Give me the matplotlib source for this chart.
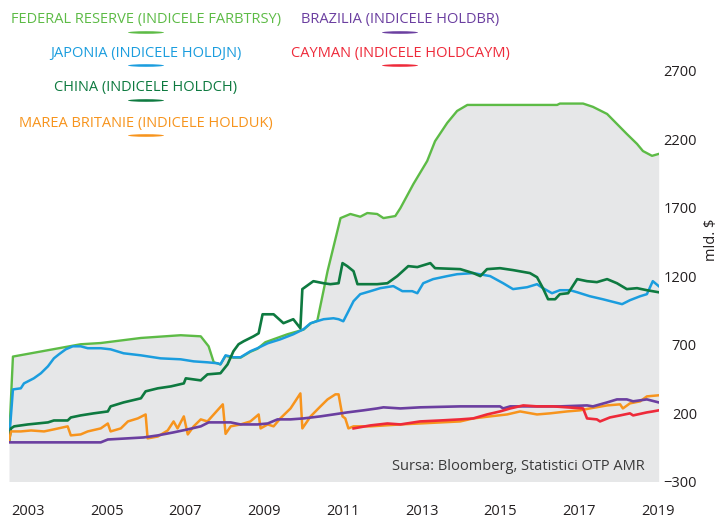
import matplotlib
matplotlib.use("Agg")
import matplotlib.pyplot as plt
from matplotlib.patches import Ellipse

plt.rcParams['font.family'] = ['Open Sans', 'DejaVu Sans']

# Federal Reserve (FARBTRSY)
fed_years = [2002.52, 2002.62, 2004.34, 2004.85, 2005.87, 2006.88, 2007.39, 2007.59, 2007.72,
             2007.89, 2008.02, 2008.22, 2008.40, 2008.65, 2008.83, 2009.03, 2009.59, 2010.00,
             2010.18, 2010.35, 2010.61, 2010.94,
             2011.19, 2011.44, 2011.62, 2011.87, 2012.03, 2012.33, 2012.46, 2012.79, 2013.14,
             2013.34, 2013.65, 2013.90, 2014.16, 2016.44, 2016.51, 2017.10, 2017.35, 2017.71,
             2017.96, 2018.21, 2018.47, 2018.62, 2018.85, 2019.02]
fed_vals = [-7, 613, 703, 712, 749, 769, 761, 688, 571,
            556, 618, 605, 605, 648, 670, 718, 776, 810,
            855, 875, 1237, 1625,
            1655, 1635, 1662, 1655, 1625, 1640, 1698, 1874, 2042,
            2187, 2321, 2408, 2452, 2452, 2462, 2462, 2438, 2386,
            2313, 2240, 2167, 2115, 2080, 2094]

# Japonia (HOLDJN)
jp_years = [2002.52, 2002.62, 2002.82, 2002.90, 2003.15, 2003.33, 2003.51, 2003.66, 2003.79,
            2003.96, 2004.14, 2004.34, 2004.52, 2004.85, 2005.10, 2005.43, 2005.87, 2006.37,
            2006.88, 2007.21, 2007.56, 2007.82, 2007.89, 2008.02, 2008.22, 2008.40, 2008.65,
            2008.83, 2009.09, 2009.41, 2009.74, 2010.00, 2010.18, 2010.51, 2010.76, 2010.89,
            2011.01, 2011.14, 2011.27, 2011.44, 2011.70, 2011.95, 2012.28, 2012.51, 2012.76,
            2012.89, 2013.04, 2013.29, 2013.65, 2013.90, 2014.31, 2014.74, 2015.07, 2015.32,
            2015.68, 2015.93, 2016.08, 2016.31, 2016.51, 2016.77, 2016.95, 2017.27, 2017.60,
            2018.09, 2018.29, 2018.55, 2018.72, 2018.87, 2019.02]
jp_vals = [-7, 373, 381, 417, 454, 491, 542, 600, 630,
           666, 688, 688, 674, 674, 666, 637, 622, 600,
           593, 578, 571, 564, 556, 622, 608, 608, 652,
           674, 710, 739, 776, 813, 857, 886, 893, 886,
           871, 944, 1018, 1069, 1091, 1113, 1128, 1091, 1091,
           1076, 1149, 1179, 1201, 1215, 1223, 1201, 1149, 1106,
           1120, 1142, 1113, 1076, 1098, 1098, 1083, 1054, 1032,
           996, 1025, 1054, 1069, 1164, 1128]

# China (HOLDCH)
cn_years = [2002.52, 2002.57, 2002.65, 2003.00, 2003.51, 2003.66, 2004.01, 2004.09, 2004.34,
            2004.67, 2005.03, 2005.10, 2005.43, 2005.87, 2005.99, 2006.30, 2006.63, 2006.96,
            2007.01, 2007.39, 2007.56, 2007.89, 2008.07, 2008.22, 2008.35, 2008.48, 2008.73,
            2008.86, 2008.96, 2009.24, 2009.49, 2009.74, 2009.92, 2009.97, 2010.25, 2010.51,
            2010.68, 2010.89, 2010.99, 2011.11, 2011.27, 2011.37, 2011.62, 2011.87, 2012.13,
            2012.38, 2012.66, 2012.89, 2013.22, 2013.34, 2013.98, 2014.31, 2014.49, 2014.66,
            2014.99, 2015.32, 2015.75, 2015.93, 2016.08, 2016.21, 2016.39, 2016.51, 2016.72,
            2016.95, 2017.20, 2017.45, 2017.71, 2017.96, 2018.21, 2018.47, 2018.72, 2019.02]
cn_vals = [-7, 88, 103, 117, 132, 146, 146, 168, 183,
           198, 212, 249, 278, 308, 359, 381, 395, 417,
           454, 439, 483, 491, 556, 652, 703, 725, 761,
           783, 922, 922, 857, 886, 820, 1106, 1164, 1149,
           1142, 1149, 1296, 1274, 1237, 1142, 1142, 1142, 1149,
           1201, 1274, 1267, 1296, 1259, 1252, 1223, 1201, 1252,
           1259, 1245, 1223, 1193, 1113, 1032, 1032, 1069, 1076,
           1179, 1164, 1157, 1179, 1149, 1106, 1113, 1098, 1083]

# Marea Britanie (HOLDUK)
uk_years = [2002.52, 2002.57, 2002.82, 2003.08, 2003.41, 2003.66, 2004.01, 2004.09, 2004.34,
            2004.52, 2004.85, 2005.03, 2005.10, 2005.36, 2005.54, 2005.79, 2005.99, 2006.04,
            2006.30, 2006.55, 2006.70, 2006.80, 2006.96, 2007.06, 2007.21, 2007.39, 2007.56,
            2007.95, 2008.02, 2008.15, 2008.40, 2008.65, 2008.86, 2008.91, 2009.09, 2009.24,
            2009.41, 2009.67, 2009.92, 2009.97, 2010.18, 2010.43, 2010.61, 2010.81, 2010.89,
            2010.99, 2011.06, 2011.14, 2011.27, 2011.70, 2012.46, 2013.98, 2014.31, 2014.74,
            2015.17, 2015.50, 2015.93, 2016.26, 2016.69, 2017.02, 2017.27, 2017.71, 2018.04,
            2018.11, 2018.29, 2018.55, 2018.72, 2019.02]
uk_vals = [-7, 66, 66, 73, 66, 81, 103, 37, 44,
           66, 88, 124, 66, 88, 139, 161, 190, 15,
           29, 73, 139, 88, 176, 44, 103, 154, 139,
           264, 48, 103, 117, 139, 190, 88, 117, 103,
           161, 234, 344, 88, 176, 249, 300, 337, 337,
           176, 161, 88, 103, 103, 117, 139, 161, 176,
           190, 212, 190, 198, 212, 220, 234, 256, 264,
           234, 271, 286, 322, 330]

# Brazilia (HOLDBR)
br_years = [2002.52, 2004.85, 2005.03, 2005.94, 2006.30, 2006.70, 2007.06, 2007.39, 2007.59,
            2008.15, 2008.40, 2008.83, 2009.09, 2009.34, 2009.67, 2010.00, 2010.43, 2010.76,
            2011.11, 2011.52, 2011.87, 2012.03, 2012.46, 2012.96, 2013.98, 2014.99, 2015.07,
            2015.25, 2016.51, 2017.20, 2017.35, 2017.71, 2017.96, 2018.21, 2018.37, 2018.72,
            2019.02]
br_vals = [-14, -14, 7, 22, 37, 59, 81, 103, 132,
           132, 117, 117, 124, 154, 154, 161, 176, 190,
           205, 220, 234, 242, 234, 242, 249, 249, 234,
           249, 249, 256, 249, 278, 300, 300, 286, 300,
           278]

# Cayman (HOLDCAYM)
ky_years = [2011.27, 2011.70, 2012.13, 2012.46, 2012.96, 2013.47, 2013.98, 2014.31, 2014.66,
            2014.99, 2015.25, 2015.58, 2015.93, 2016.34, 2016.69, 2017.10, 2017.20, 2017.45,
            2017.53, 2017.78, 2018.04, 2018.29, 2018.37, 2018.72, 2018.87, 2019.02]
ky_vals = [88, 110, 124, 117, 139, 146, 154, 161, 190,
           212, 234, 256, 249, 249, 242, 234, 161, 154,
           139, 168, 183, 198, 183, 205, 212, 220]

c_fed = '#5DBB46'
c_jp = '#1B9DDE'
c_cn = '#0E7A40'
c_uk = '#F7941D'
c_br = '#6B3FA0'
c_ky = '#EE2A3A'

fig = plt.figure(figsize=(7.2, 5.21), dpi=100)
ax = fig.add_axes([9 / 720, 1 - 481.5 / 521, (658.7 - 9) / 720, (481.5 - 71) / 521])

ax.fill_between(fed_years, -300, fed_vals, color='#E6E7E8', lw=0)
ax.plot(fed_years, fed_vals, color=c_fed, lw=1.7)
ax.plot(jp_years, jp_vals, color=c_jp, lw=1.8)
ax.plot(cn_years, cn_vals, color=c_cn, lw=1.9)
ax.plot(uk_years, uk_vals, color=c_uk, lw=1.8)
ax.plot(br_years, br_vals, color=c_br, lw=1.9)
ax.plot(ky_years, ky_vals, color=c_ky, lw=1.9)

ax.set_xlim(2002.52, 2019.02)
ax.set_ylim(-300, 2700)
for s in ax.spines.values():
    s.set_visible(False)

ax.set_xticks(range(2003, 2020, 2))
ax.tick_params(axis='x', length=0, pad=16, labelsize=10.5, labelcolor='#231F20')
ax.yaxis.tick_right()
ax.set_yticks([-300, 200, 700, 1200, 1700, 2200, 2700])
ax.tick_params(axis='y', length=0, pad=27.5, labelsize=10.5, labelcolor='#231F20')
for lab in ax.get_yticklabels():
    lab.set_horizontalalignment('right')

fig.text(712 / 720, 1 - 240 / 521, 'mld. $', rotation=90, ha='center', va='center',
         fontsize=10.5, color='#231F20')
fig.text(645 / 720, 1 - 466 / 521, 'Sursa: Bloomberg, Statistici OTP AMR', ha='right',
         va='center', fontsize=10.5, color='#3A3A3A')

# legend entries: text with a small swoosh underneath
legend = [
    ('FEDERAL RESERVE (INDICELE FARBTRSY)', c_fed, 146, 20),
    ('JAPONIA (INDICELE HOLDJN)', c_jp, 146, 53),
    ('CHINA (INDICELE HOLDCH)', c_cn, 146, 88),
    ('MAREA BRITANIE (INDICELE HOLDUK)', c_uk, 146, 123),
    ('BRAZILIA (INDICELE HOLDBR)', c_br, 400, 20),
    ('CAYMAN (INDICELE HOLDCAYM)', c_ky, 400, 53),
]
for txt, col, x, y in legend:
    fig.text(x / 720, 1 - y / 521, txt, ha='center', va='center', fontsize=10.5, color=col)
    fig.add_artist(Ellipse((x / 720, 1 - (y + 12.5) / 521), 36 / 720, 2.6 / 521,
                           transform=fig.transFigure, color=col, lw=0))

fig.savefig('out.png', dpi=100)
